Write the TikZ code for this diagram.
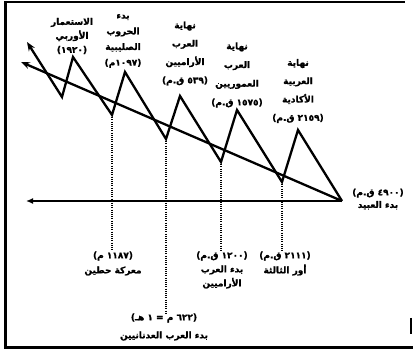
\documentclass[tikz,border=0pt]{standalone}
\usepackage{fontspec}
\usetikzlibrary{arrows.meta}
\TeXXeTstate=1
\newfontfamily\arabicfont[Script=Arabic, BoldFont={DejaVu Sans Bold}, BoldFeatures={FakeBold=1.2}]{DejaVu Sans}
\newfontfamily\parfont[BoldFont={DejaVu Sans Bold}, BoldFeatures={FakeBold=1.2}]{DejaVu Sans}
\newcommand{\artxt}[1]{\beginR #1\endR}
\newcommand{\arnum}[1]{\beginL #1\endL{}}
\newcommand{\lpar}{{\parfont(}}
\newcommand{\rpar}{{\parfont)}}
\begin{document}
\begin{tikzpicture}[x=1pt,y=-1pt,
  lab/.style={font=\arabicfont\bfseries\fontsize{9}{#1}\selectfont, align=center, inner sep=0pt},
  lab/.default=15,
  bold line/.style={line width=2.3pt, line join=miter},
  dotline/.style={line width=1.8pt, dash pattern=on 1.1pt off 1.1pt},
  frame line/.style={line width=#1},
]
\useasboundingbox (0,0) rectangle (413,350);
% frame
\draw[frame line=3.5pt] (5.5,1) -- (5.5,349);
\draw[frame line=2pt] (4,2) -- (405,2);
\draw[frame line=3pt] (4,347.5) -- (413,347.5);
\draw[frame line=2pt] (411,318) -- (411,334);
% coordinates
\coordinate (e) at (342,201);
\coordinate (axl) at (26,201);
\coordinate (dl) at (21,62);
\coordinate (p1) at (298,130);
\coordinate (v1) at (282,182);
\coordinate (p2) at (237,110);
\coordinate (v2) at (221,162);
\coordinate (p3) at (180,96);
\coordinate (v3) at (166,139);
\coordinate (p4) at (125,72);
\coordinate (v4) at (112,115);
\coordinate (p5) at (73,57);
\coordinate (v5) at (62,97);
\coordinate (tip) at (27,42);
% axis and lines
\draw[line width=2pt, -{Latex[length=7pt,width=6pt]}] (e) -- (axl);
\draw[bold line, -{Stealth[length=9pt,width=7pt]}] (e) -- (dl);
\draw[bold line, -{Stealth[length=9pt,width=7pt]}] (e) -- (p1) -- (v1) -- (p2) -- (v2) -- (p3) -- (v3) -- (p4) -- (v4) -- (p5) -- (v5) -- (tip);
% top labels
\node[lab=14] (t5) at (72,36) {الاستعمار\\الأوربي\\\lpar\artxt{\arnum{١٩٢٠}}\rpar};
\node[lab=15.7] (t4) at (123,41) {بدء\\الحروب\\الصليبية\\\lpar\artxt{\arnum{١٠٩٧}م}\rpar};
\node[lab=18.3] (t3) at (185,53.5) {نهاية\\العرب\\الأراميين\\\lpar\artxt{\arnum{٥٣٩} ق.م}\rpar};
\node[lab=18.7] (t2) at (237,75) {نهاية\\العرب\\العموريين\\\lpar\artxt{\arnum{١٥٧٥} ق.م}\rpar};
\node[lab=18.3] (t1) at (298,91) {نهاية\\العربية\\الأكادية\\\lpar\artxt{\arnum{٢١٥٩} ق.م}\rpar};
\node[lab=12.5] (r0) at (378,199) {\lpar\artxt{\arnum{٤٩٠٠} ق.م}\rpar\\\artxt{بدء العبيد}};
% bottom labels
\node[lab=15] (b4) at (113,263.5) {\lpar\artxt{\arnum{١١٨٧} م}\rpar\\\artxt{معركة حطين}};
\node[lab=18] (b3) at (164,327) {\lpar\artxt{\arnum{٦٢٢} م = \arnum{١} هـ}\rpar\\\artxt{بدء العرب العدنانيين}};
\node[lab=14] (b2) at (222,270) {\lpar\artxt{\arnum{١٢٠٠} ق.م}\rpar\\\artxt{بدء العرب}\\الأراميين};
\node[lab=15] (b1) at (285,263.5) {\lpar\artxt{\arnum{٢١١١} ق.م}\rpar\\\artxt{أور الثالثة}};
% dotted drop lines
\draw[dotline] (v4) -- (v4 |- b4.north);
\draw[dotline] (v3) -- (v3 |- b3.north);
\draw[dotline] (v2) -- (v2 |- b2.north);
\draw[dotline] (v1) -- (v1 |- b1.north);
\end{tikzpicture}
\end{document}
